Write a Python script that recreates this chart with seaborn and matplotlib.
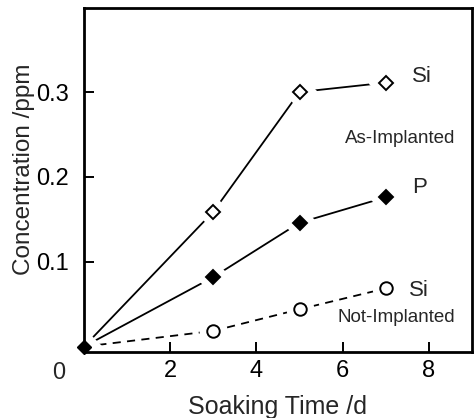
import matplotlib
matplotlib.use("Agg")
import matplotlib.pyplot as plt
import seaborn as sns
import pandas as pd

sns.set_theme(style="ticks")
plt.rcParams['font.family'] = ['Liberation Sans', 'DejaVu Sans']

# ---- data ----
days = [0, 3, 5, 7]
si_as_implanted = [0.0, 0.159, 0.300, 0.311]
p_as_implanted = [0.0, 0.082, 0.146, 0.176]
si_not_implanted = [0.0, 0.0185, 0.044, 0.0686]
x_ticks = [2, 4, 6, 8]
y_ticks = [0.1, 0.2, 0.3]
y_tick_labels = ["0.1", "0.2", "0.3"]

fig = plt.figure(figsize=(4.74, 4.18), dpi=100)
ax = fig.add_axes([84 / 474, 1 - 351.7 / 418, (472 - 84) / 474, (351.7 - 8) / 418])

series = [
    (si_as_implanted, "-", "D", "white", 7.2),
    (p_as_implanted, "-", "D", "black", 7.2),
    (si_not_implanted, (0, (4.5, 3.5)), "o", "white", 9),
]

for vals, ls, mk, fc, ms in series:
    df = pd.DataFrame({"t": days, "c": vals})
    sns.lineplot(data=df, x="t", y="c", ax=ax, color="black", lw=1.3,
                 linestyle=ls, zorder=2, legend=False)
    # white halo so the line stops short of each marker
    ax.plot(df["t"][1:], df["c"][1:], linestyle="none", marker=mk, ms=ms + 10,
            mfc="white", mec="white", zorder=3)
    ax.plot(df["t"][1:], df["c"][1:], linestyle="none", marker=mk, ms=ms,
            mfc=fc, mec="black", mew=1.4, zorder=4)

# origin point (shared)
ax.plot([days[0]], [p_as_implanted[0]], linestyle="none", marker="D", ms=18,
        mfc="white", mec="white", zorder=3, clip_on=False)
ax.plot([days[0]], [p_as_implanted[0]], linestyle="none", marker="D", ms=7.2,
        mfc="black", mec="black", zorder=5, clip_on=False)

ax.set_xlim(0, 9.0)
ax.set_ylim(-0.006, 0.399)
ax.set_xticks(x_ticks)
ax.set_xticklabels([str(v) for v in x_ticks])
ax.set_yticks(y_ticks)
ax.set_yticklabels(y_tick_labels)
ax.tick_params(direction="in", length=7, width=1.4, labelsize=17, pad=11,
               colors="black")
ax.tick_params(axis="x", pad=6)
for s in ax.spines.values():
    s.set_linewidth(2)
    s.set_color("black")
    s.set_zorder(6)

ax.text(-0.59, -0.031, "0", fontsize=17, ha="center", va="center", clip_on=False)
ax.set_xlabel("Soaking Time /d", fontsize=18, labelpad=9)
ax.set_ylabel("Concentration /ppm", fontsize=17.5)
ax.yaxis.set_label_coords(-0.125, 0.53)

ax.text(7.6, 0.318, "Si", fontsize=16, ha="left", va="center")
ax.text(6.05, 0.245, "As-Implanted", fontsize=13.5, ha="left", va="center")
ax.text(7.62, 0.188, "P", fontsize=16, ha="left", va="center")
ax.text(7.53, 0.0666, "Si", fontsize=16, ha="left", va="center")
ax.text(5.88, 0.0347, "Not-Implanted", fontsize=13.5, ha="left", va="center")

fig.savefig("out.png", dpi=100)
